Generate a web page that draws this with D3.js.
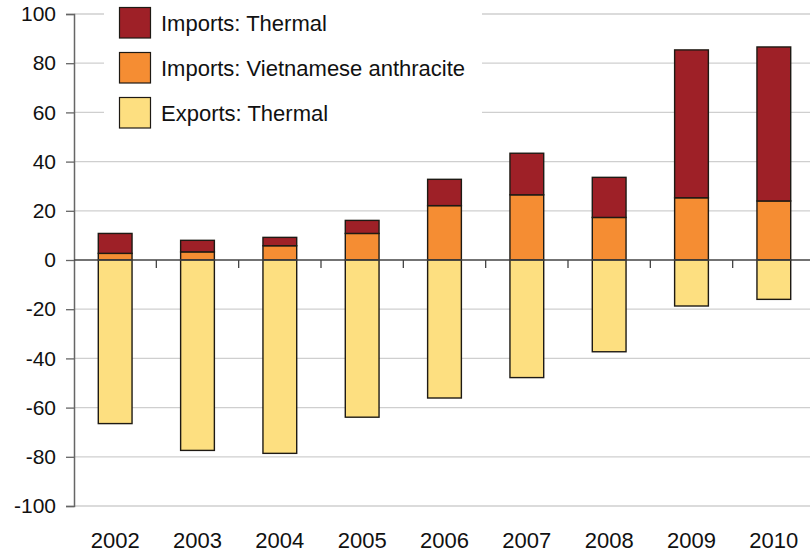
<!DOCTYPE html>
<html>
<head>
<meta charset="utf-8">
<script src="https://cdn.jsdelivr.net/npm/d3@7"></script>
<style>
  html, body { margin: 0; padding: 0; background: #fff; }
  svg { display: block; font-family: "Liberation Sans", Arial, Helvetica, sans-serif; }
</style>
</head>
<body>
<svg id="chart" width="810" height="552"></svg>
<script>
const years = ["2002","2003","2004","2005","2006","2007","2008","2009","2010"];
const importsVietnamese = [2.7, 3.3, 5.8, 10.8, 22.1, 26.5, 17.3, 25.3, 24.0];
const importsThermal    = [8.1, 4.7, 3.4, 5.3, 10.7, 16.9, 16.3, 60.1, 62.6];
const exportsThermal    = [-66.5, -77.4, -78.6, -63.9, -56.1, -47.8, -37.3, -18.7, -16.0];
const yTicks = [-100, -80, -60, -40, -20, 0, 20, 40, 60, 80, 100];
const seriesNames = ["Imports: Thermal", "Imports: Vietnamese anthracite", "Exports: Thermal"];
const seriesColors = ["#9E2027", "#F58D33", "#FDDF80"];

const svg = d3.select("#chart");
const mLeft = 74, mRight = 815, mTop = 14, mBottom = 506;
const fs = 21;

const x = d3.scaleBand().domain(years).range([mLeft, mRight]).paddingInner(0.59).paddingOuter(0.295);
const xb = d3.scaleBand().domain(years).range([mLeft, mRight]);
const y = d3.scaleLinear().domain([-100, 100]).range([mBottom, mTop]);

// gridlines
svg.append("g").selectAll("line").data(yTicks.filter(t => t !== 0)).join("line")
  .attr("x1", mLeft).attr("x2", 810)
  .attr("y1", d => y(d)).attr("y2", d => y(d))
  .attr("stroke", "#cfcfcf").attr("stroke-width", 1.3);

// y axis
const yAxis = d3.axisLeft(y).tickValues(yTicks).tickSize(8).tickPadding(10).tickFormat(d => String(d));
const gy = svg.append("g").attr("transform", `translate(${mLeft},0)`).call(yAxis);
gy.select(".domain").attr("stroke", "#666").attr("stroke-width", 1.5);
gy.selectAll(".tick line").attr("stroke", "#666").attr("stroke-width", 1.3);
gy.selectAll(".tick text").attr("font-size", fs).attr("fill", "#111")
  .attr("font-family", "'Liberation Sans', Arial, sans-serif");

// stacked bars
const stacks = [
  { vals: importsVietnamese, base: years.map(() => 0), color: seriesColors[1] },
  { vals: importsThermal, base: importsVietnamese, color: seriesColors[0] },
  { vals: exportsThermal, base: years.map(() => 0), color: seriesColors[2] }
];
stacks.forEach(s => {
  svg.append("g").selectAll("rect").data(years).join("rect")
    .attr("x", d => x(d))
    .attr("width", x.bandwidth())
    .attr("y", (d, i) => Math.min(y(s.base[i]), y(s.base[i] + s.vals[i])))
    .attr("height", (d, i) => Math.abs(y(s.base[i]) - y(s.base[i] + s.vals[i])))
    .attr("fill", s.color)
    .attr("stroke", "#1e1a14").attr("stroke-width", 1.4);
});

// zero line with category ticks
svg.append("line").attr("x1", mLeft).attr("x2", 810).attr("y1", y(0)).attr("y2", y(0))
  .attr("stroke", "#444").attr("stroke-width", 1.6);
svg.append("g").selectAll("line").data(years.slice(1)).join("line")
  .attr("x1", d => xb(d)).attr("x2", d => xb(d))
  .attr("y1", y(0)).attr("y2", y(0) + 8)
  .attr("stroke", "#444").attr("stroke-width", 1.3);

// x labels
svg.append("g").selectAll("text").data(years).join("text")
  .attr("x", d => xb(d) + xb.bandwidth() / 2)
  .attr("y", 548)
  .attr("text-anchor", "middle")
  .attr("font-size", 22).attr("fill", "#111")
  .text(d => d);

// legend
const lg = svg.append("g");
lg.append("rect").attr("x", 104).attr("y", 0).attr("width", 378).attr("height", 135).attr("fill", "#fff");
seriesNames.forEach((n, i) => {
  const yy = 7.5 + i * 45;
  lg.append("rect").attr("x", 119.5).attr("y", yy).attr("width", 31).attr("height", 30.5)
    .attr("fill", seriesColors[i]).attr("stroke", "#1e1a14").attr("stroke-width", 1.2);
  lg.append("text").attr("x", 161).attr("y", yy + 23).attr("font-size", 22).attr("fill", "#111").text(n);
});
</script>
</body>
</html>
